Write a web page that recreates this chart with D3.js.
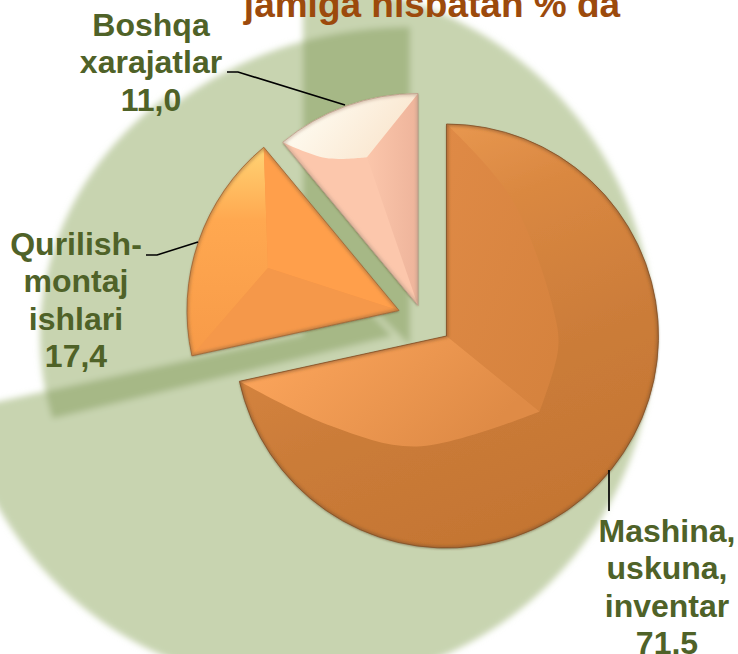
<!DOCTYPE html>
<html>
<head>
<meta charset="utf-8">
<script src="https://cdn.jsdelivr.net/npm/d3@7"></script>
<style>
  html, body { margin: 0; padding: 0; background: #fff; }
  text { font-family: "Liberation Sans", Arial, sans-serif; font-weight: bold; }
</style>
</head>
<body>
<svg id="chart" width="738" height="654"></svg>
<script>
const categories = ['Mashina, uskuna, inventar', 'Qurilish-montaj ishlari', 'Boshqa xarajatlar'];
const values = [71.5, 17.4, 11.0];
const valueLabels = ['71,5', '17,4', '11,0'];
const labelLines = [['Mashina,', 'uskuna,', 'inventar'], ['Qurilish-', 'montaj', 'ishlari'], ['Boshqa', 'xarajatlar']];
const titleText = 'jamiga nisbatan % da';

// layout
const R = 212;
const apex = [[446.5, 336], [399, 310.5], [418, 305.5]];      // exploded slice tips
const labelPos = [[667, 542], [76, 255], [151, 36]];
const leaders = [
  [[609, 470], [609, 511]],
  [[146, 255], [157, 255], [198, 242]],
  [[227, 72], [238, 72], [345, 105]],
];
// the big flat shadows behind the pie: same slices, skewed a bit by perspective.
// startFix opens the wedge a few degrees, the reference's edges don't sit on the true angle
const shadowGeo = [
  { c: [303, 335], rx: 350, ry: 350, startFix: 0 },
  { c: [392, 336], rx: 352, ry: 312, startFix: -3 },
  { c: [410, 345], rx: 360, ry: 318, startFix: -3 },
];

const svg = d3.select('#chart');
const defs = svg.append('defs');
const rad = (d) => d * Math.PI / 180;
const polar = (f, d) => [f * R * Math.sin(rad(d)), -f * R * Math.cos(rad(d))];

const slices = d3.pie().sort(null).startAngle(0).endAngle(2 * Math.PI)(values);
const arc = d3.arc().innerRadius(0).outerRadius(R);
const deg = (a) => a * 180 / Math.PI;

function grad(id, x1, y1, x2, y2, stops) {
  const g = defs.append('linearGradient').attr('id', id)
    .attr('x1', x1).attr('y1', y1).attr('x2', x2).attr('y2', y2);
  stops.forEach(([o, c]) => g.append('stop').attr('offset', o).attr('stop-color', c));
}
grad('s1base', 0.2, 0, 0.6, 1, [[0, '#ef9f57'], [0.3, '#da8841'], [0.65, '#cb7c39'], [1, '#c47532']]);
grad('s1up', 0, 0, 1, 1, [[0, '#df8a46'], [1, '#d5823d']]);
grad('s1low', 0, 0, 1, 0.4, [[0, '#ffa85e'], [1, '#df8b46']]);
grad('s2left', 0.5, 0, 0.5, 1, [[0, '#ffd474'], [0.35, '#ffa850'], [1, '#f79a48']]);
grad('s3top', 0, 0.3, 1, 0.7, [[0, '#fffef5'], [1, '#f9e3ca']]);
grad('s3right', 0, 0.5, 1, 0.5, [[0, '#fbc6ab'], [1, '#eeb49b']]);

const blur = defs.append('filter').attr('id', 'blur').attr('x', '-10%').attr('y', '-10%').attr('width', '120%').attr('height', '120%');
blur.append('feGaussianBlur').attr('stdDeviation', 3);
const soft = defs.append('filter').attr('id', 'soft');
soft.append('feGaussianBlur').attr('stdDeviation', 1.5);
const drop = defs.append('filter').attr('id', 'drop').attr('x', '-10%').attr('y', '-10%').attr('width', '120%').attr('height', '120%');
drop.append('feDropShadow').attr('dx', 0).attr('dy', 1).attr('stdDeviation', 1.2).attr('flood-color', '#5a4020').attr('flood-opacity', 0.55);

// ── shadows ──
function shadowPath(i) {
  const g = shadowGeo[i];
  const a0 = deg(slices[i].startAngle) + g.startFix;
  const a1 = deg(slices[i].endAngle);
  const pts = d3.range(0, 121).map((k) => {
    const t = rad(a0 + (a1 - a0) * k / 120);
    return [g.c[0] + g.rx * Math.sin(t), g.c[1] - g.ry * Math.cos(t)];
  });
  return d3.line()([g.c, ...pts]) + 'Z';
}
defs.append('clipPath').attr('id', 'clipBig').append('path').attr('d', shadowPath(0));

const shadowG = svg.append('g').attr('filter', 'url(#blur)');
[0, 1, 2].forEach((i) => {
  shadowG.append('path').attr('d', shadowPath(i)).attr('fill', '#c8d4b0');
});
const overlap = shadowG.append('g').attr('clip-path', 'url(#clipBig)');
[1, 2].forEach((i) => {
  overlap.append('path').attr('d', shadowPath(i)).attr('fill', '#a6b886');
});

// ── pie ──
const curve = d3.line().curve(d3.curveCatmullRom.alpha(0.5));
function arcPoints(a0, a1) {
  return d3.range(0, 41).map((k) => polar(1, a0 + (a1 - a0) * k / 40));
}
function closed(pts) { return d3.line()(pts) + 'Z'; }

const facets = [
  (a0, a1) => {
    const ridge = [0.565, 129];
    const inner = [[1, a0], [0.72, 25], [0.52, 79], [0.53, 97], ridge].map((p) => polar(p[0], p[1]));
    const lower = [[1, a1], [0.69, 232], [0.54, 195], ridge].map((p) => polar(p[0], p[1]));
    return [
      { d: curve(inner) + 'L0,0Z', fill: 'url(#s1up)' },
      { d: curve(lower) + 'L0,0Z', fill: 'url(#s1low)' },
    ];
  },
  (a0, a1) => {
    const ridge = polar(0.65, 288);
    return [
      { d: closed([...arcPoints(a0, a1), ridge]), fill: 'url(#s2left)' },
      { d: closed([polar(1, a1), ridge, [0, 0]]), fill: '#ff9f4b' },
      { d: closed([polar(1, a0), ridge, [0, 0]]), fill: '#f5984a' },
    ];
  },
  (a0, a1) => {
    const ridge = polar(0.74, 341);
    const under = curve([polar(1, a0), polar(0.82, 328), ridge]);
    return [
      { d: closed([ridge, polar(1, a1), [0, 0]]), fill: 'url(#s3right)' },
      { d: under + 'L' + arcPoints(a0, a1).reverse().join('L') + 'Z', fill: 'url(#s3top)' },
    ];
  },
];
const baseFill = ['url(#s1base)', '#f5984a', '#fcc7ac'];
const edge = ['#7d4f28', '#96653a', '#b89a86'];

slices.forEach((s, i) => {
  const g = svg.append('g').attr('transform', `translate(${apex[i][0]},${apex[i][1]})`);
  defs.append('clipPath').attr('id', `sliceClip${i}`).append('path').attr('d', arc(s));
  g.append('path').attr('d', arc(s)).attr('fill', baseFill[i]).attr('filter', 'url(#drop)');
  facets[i](deg(s.startAngle), deg(s.endAngle)).forEach((f) => {
    g.append('path').attr('d', f.d).attr('fill', f.fill);
  });
  // soft rim so the flat facets read as bevelled
  g.append('g').attr('clip-path', `url(#sliceClip${i})`)
    .append('path').attr('d', arc(s)).attr('fill', 'none')
    .attr('stroke', edge[i]).attr('stroke-width', 4).attr('stroke-opacity', 0.5).attr('filter', 'url(#soft)');
  g.append('path').attr('d', arc(s)).attr('fill', 'none').attr('stroke', edge[i]).attr('stroke-width', 0.8);
});

// ── leaders and labels ──
leaders.forEach((pts) => {
  svg.append('path').attr('d', d3.line()(pts)).attr('fill', 'none').attr('stroke', '#000').attr('stroke-width', 1.7);
});
const lineH = 37.3;
categories.forEach((c, i) => {
  const t = svg.append('text').attr('text-anchor', 'middle').attr('fill', '#4f6228').attr('font-size', 32);
  [...labelLines[i], valueLabels[i]].forEach((l, k) => {
    t.append('tspan').attr('x', labelPos[i][0]).attr('y', labelPos[i][1] + k * lineH).text(l);
  });
});
svg.append('text').attr('x', 432).attr('y', 17).attr('text-anchor', 'middle')
  .attr('fill', '#9c4a0c').attr('font-size', 37).text(titleText);
</script>
</body>
</html>
